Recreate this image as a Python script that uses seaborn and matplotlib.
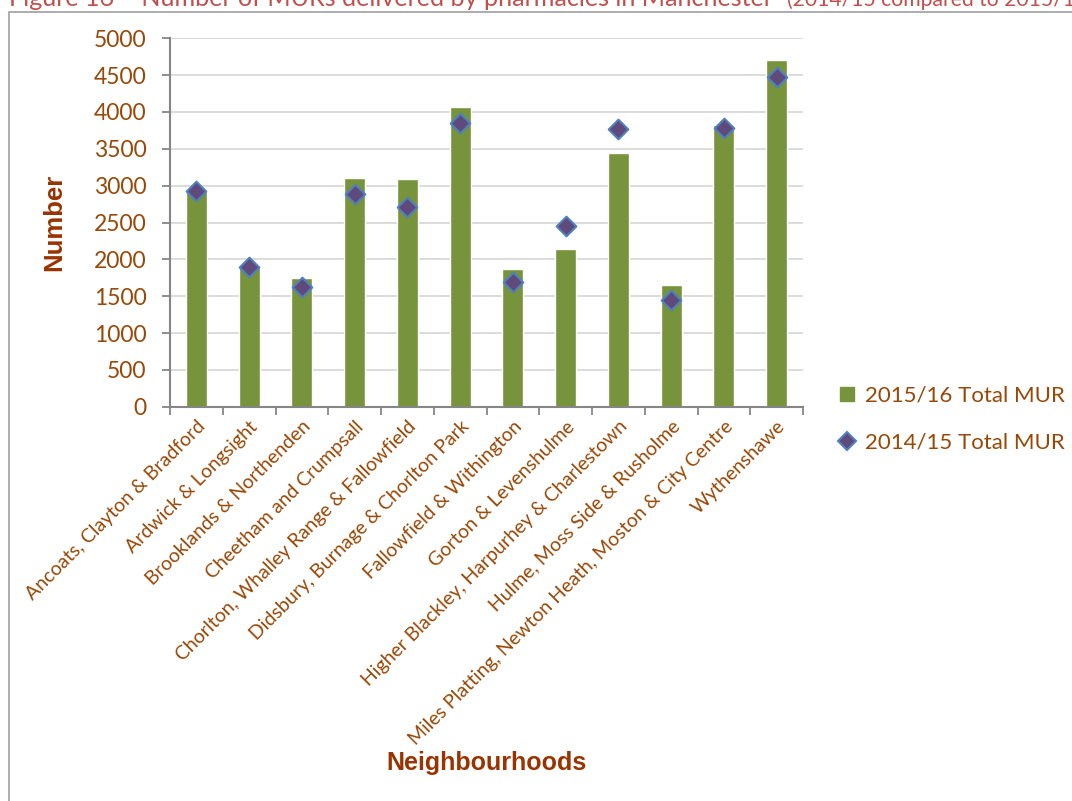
import matplotlib
matplotlib.use("Agg")
import matplotlib.pyplot as plt
from matplotlib.patches import Rectangle
from matplotlib.lines import Line2D
import seaborn as sns
import numpy as np

neighbourhoods = [
    "Ancoats, Clayton & Bradford",
    "Ardwick & Longsight",
    "Brooklands & Northenden",
    "Cheetham and Crumpsall",
    "Chorlton, Whalley Range & Fallowfield",
    "Didsbury, Burnage & Chorlton Park",
    "Fallowfield & Withington",
    "Gorton & Levenshulme",
    "Higher Blackley, Harpurhey & Charlestown",
    "Hulme, Moss Side & Rusholme",
    "Miles Platting, Newton Heath, Moston & City Centre",
    "Wythenshawe",
]
mur_2015_16 = [2940, 1920, 1750, 3110, 3090, 4070, 1870, 2140, 3450, 1650, 3830, 4700]
mur_2014_15 = [2930, 1900, 1630, 2890, 2715, 3850, 1690, 2455, 3765, 1450, 3780, 4480]
y_ticks = list(range(0, 5001, 500))

label_series_new = "2015/16 Total MUR"
label_series_old = "2014/15 Total MUR"

sns.set_theme(style="white")
plt.rcParams["font.family"] = ["Lato", "DejaVu Sans"]

text_col = "#984807"
title_col = "#C0504D"
bar_col = "#77933C"
grid_col = "#D9D9D9"
axis_col = "#868686"

W, H = 1072, 801
fig = plt.figure(figsize=(W / 100, H / 100), dpi=100)
ax = fig.add_axes([170 / W, 1 - 406.7 / H, (803 - 170) / W, (406.7 - 38.3) / H])

# outer chart frame
fig.patches.append(Rectangle((9 / W, -0.05), 1.1, 1 - 12 / H + 0.05,
                             transform=fig.transFigure, fill=False,
                             edgecolor="#A6A6A6", linewidth=1.3))

sns.barplot(x=neighbourhoods, y=mur_2015_16, color=bar_col, width=0.4,
            saturation=1, ax=ax, zorder=2)
sns.stripplot(x=neighbourhoods, y=mur_2014_15, jitter=False, marker="D",
              size=10, color="#604A7B", edgecolor="#4F81BD", linewidth=1.5,
              ax=ax, zorder=3)

ax.set_xlim(-0.5, len(neighbourhoods) - 0.5)
ax.set_ylim(0, 5000)
ax.set_yticks(y_ticks)
ax.set_yticklabels([str(v) for v in y_ticks], color=text_col, fontsize=16.5)
ax.yaxis.grid(True, color=grid_col, linewidth=1.3, zorder=0)
ax.set_axisbelow(True)

ax.set_xticks(range(len(neighbourhoods)))
ax.set_xticklabels(neighbourhoods, rotation=45, ha="right",
                   rotation_mode="anchor", color=text_col, fontsize=14)
ax.tick_params(axis="x", length=0, pad=8)
ax.set_xticks(np.arange(-0.5, len(neighbourhoods)), minor=True)
ax.tick_params(axis="x", which="minor", length=6, width=1.3, color=axis_col,
               direction="out", bottom=True)
ax.tick_params(axis="y", length=6, width=1.3, color=axis_col,
               direction="out", left=True, pad=11)

for side in ["top", "right"]:
    ax.spines[side].set_visible(False)
for side in ["left", "bottom"]:
    ax.spines[side].set_color(axis_col)
    ax.spines[side].set_linewidth(1.5)

ax.set_xlabel("")
ax.set_ylabel("")
fig.text(54 / W, 1 - 222 / H, "Number", rotation=90, ha="center", va="center",
         fontsize=18.5, fontweight="bold", color="#993300",
         family=["Liberation Sans", "DejaVu Sans"])
fig.text(486 / W, 1 - 763 / H, "Neighbourhoods", ha="center", va="center",
         fontsize=18, fontweight="bold", color="#993300",
         family=["Liberation Sans", "DejaVu Sans"])

# figure caption, running off the top edge
fig.text(9 / W, 1 - 6 / H,
         "Figure 16 \u2013 Number of MURs delivered by pharmacies in Manchester",
         ha="left", va="baseline", fontsize=18.1, color=title_col)
fig.text(787 / W, 1 - 6 / H, "(2014/15 compared to 2015/16)",
         ha="left", va="baseline", fontsize=15.2, color=title_col)

handles = [
    Line2D([], [], marker="s", linestyle="none", markersize=10,
           markerfacecolor=bar_col, markeredgecolor=bar_col),
    Line2D([], [], marker="D", linestyle="none", markersize=9,
           markerfacecolor="#604A7B", markeredgecolor="#4F81BD",
           markeredgewidth=1.5),
]
fig.legend(handles, [label_series_new, label_series_old],
           loc="upper left", bbox_to_anchor=(818 / W, 1 - 366 / H),
           frameon=False, fontsize=16, labelcolor=text_col,
           handlelength=0.8, handletextpad=0.4, labelspacing=1.2)

fig.savefig("out.png", dpi=100)
